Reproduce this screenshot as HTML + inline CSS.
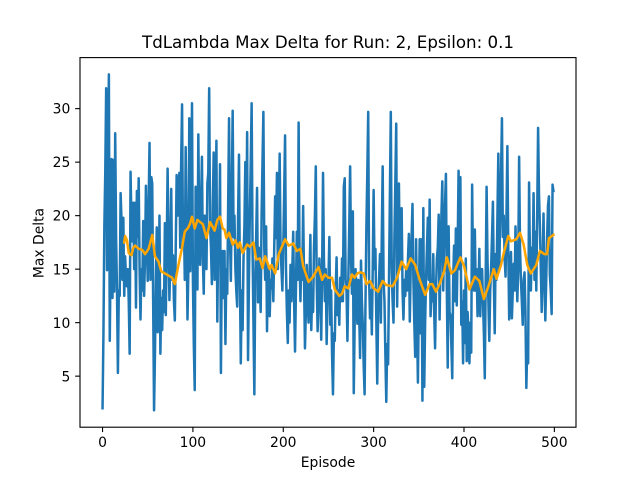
<!DOCTYPE html>
<html>
<head>
<meta charset="utf-8">
<style>
html,body{margin:0;padding:0;background:#fff;width:640px;height:480px;overflow:hidden}
svg{display:block}
text{font-family:"DejaVu Sans",sans-serif;fill:#000}
</style>
</head>
<body>
<svg id="chart" width="640" height="480" viewBox="0 0 640 480" xmlns="http://www.w3.org/2000/svg">
<rect x="0" y="0" width="640" height="480" fill="#fff"/>
<text x="328" y="48" font-size="16.67" text-anchor="middle">TdLambda Max Delta for Run: 2, Epsilon: 0.1</text>
<text x="328" y="467" font-size="13.89" text-anchor="middle">Episode</text>
<text x="0" y="0" font-size="13.89" text-anchor="middle" transform="translate(43.5 243) rotate(-90)">Max Delta</text>
</svg>
<script>
const xTicks = [0, 100, 200, 300, 400, 500];
const yTicks = [5, 10, 15, 20, 25, 30];
const deltaValues = [
2,9,19,24,31.9,14.9,25,33.2,8.3,17,25.3,12.3,25.2,12.9,27.7,17.9,13,5.3,13,12.5,
22.1,19.5,14,19.8,12.5,16.2,14,13.4,15,12,7.1,24.1,19,17.6,21.2,15,21.2,11.4,22.3,18,
23.5,15,10.3,15,13,19.5,12.5,16,22.8,18,13.9,21,26.8,14,23.6,23,12,1.8,7,14,
18.9,9.1,12,20,7.1,12.3,9.3,13,11,19.3,10.7,17,24.4,18,12.1,16,22.5,14,16.3,12,
10.2,17,23.8,20,21.3,24,17,25,30.4,17.6,20,14,26.4,18,10.3,15,29.1,14.8,21,30.5,
14,8,3.7,22.7,18,13.1,27.6,19,15.4,21,25.5,16,12.7,20,17,15,23,24,31.9,19,
17,13.6,21,25.9,14,18,27,10.1,18,16,24.8,5.3,16,16.7,12.3,16.7,8,15,12.7,21,
29.1,18,13.9,22,29.8,18,20,15,13,11.5,20,25.7,14,6.2,13,9.3,16,19,25,17,
27.8,6.5,14,20,25,30.5,17,10,3.3,14,18,22.6,11.9,17,14,11,20,25,29.7,17,
14,19,9.2,15,14.9,10.6,14,13.2,16,12,17,21.8,17.9,24,15,19,25.8,17,15,13,
17,22,27.5,15,11,8.1,13,10,15.4,12,15,18.5,12,7.3,13,18.5,14,28.7,16,12,
16.4,14,20.9,14,7.6,11,15.4,12,10,14,18.2,9.3,13,11,17,20,24.6,14,9.2,12,
16,13,8.4,15,24,16,12,15,8,12,14,18,9.8,13,7,3.3,9,8.3,13,16.1,
10.7,13,9.8,14.2,12,16,12,22.7,23.5,14,13,8.3,14,19,24.6,16,12.7,20.4,3.4,10,
15,13,9.9,14,11,6.7,15.8,12,9.8,6,3.3,12,19,24,29.7,14,10.4,13,8.9,15,
22.4,15,16.9,10,4.3,11,14,16.4,10,18,24.6,14,12,7,2.6,8,6.1,14,22,29.7,
15,12,10,18,23,28.6,11.5,18,23,15,18,20.7,13,10.3,14,12.5,15,13,16,18.3,
10.1,15,18,21.1,14,10,6.8,17.8,10,4.4,12,17.8,9,17.8,2.7,20.7,4,10,14,17,
19.8,14,21.5,10.6,13,12,16.4,11,7.6,13,16,17,20.1,10.3,16,20,23.2,13,18,21,
23.9,13,5.8,19,11,10.7,8,4.8,14,17.2,12,18.8,11.6,17,24.2,15,23.6,9.8,12,6.2,
13,8.1,16,6.4,11,9,6.2,10,7.2,22.9,15,13,18.7,13,15,10.6,13,16.9,10.6,15,
15,12,9,4.8,14,22.7,16,12,8.3,13,15.1,18,21.3,14,9,16.4,14,20,25.8,15,
19.2,24,29.1,18,20,16,14.3,20,26.5,17,10.3,13,16.6,10.4,13,15.5,13,19,15,12,
15,25.5,17,14,12,9.8,14,14.7,11,3.9,8,6.2,23.1,16,13,17,15,22.1,14,18.5,
13,20,28.2,22,19,15,11,15,20.2,14,10.2,14,18,21,21.8,14.5,13,10.8,22.9,22.3
];
const averageEpisodes = [24,25,27,29,32,34,36,40,44,47,51,55,58,62,65,69,73,77,80,84,88,91,95,97,99,102,105,111,115,119,124,127,130,133,135,137,140,144,147,150,152,155,160,163,167,170,174,177,180,185,187,191,195,198,202,206,211,215,219,222,228,233,239,243,246,250,254,257,262,265,268,272,276,279,282,285,289,292,296,300,305,310,314,321,326,331,336,341,346,351,357,362,365,369,373,378,381,386,390,396,400,406,412,417,422,427,433,436,441,444,449,452,458,462,466,470,474,480,484,489,492,494,499];
const averageValues = [17.5,18.1,17.7,16.5,16.3,17,17.2,16.9,16.8,16.4,16.9,18.2,16.2,15.7,14.8,14.6,14.4,14.2,13.6,15.4,17,18.5,18.9,19.3,19.9,18.8,19.6,19.2,17.9,19.4,18.6,19.6,19.9,18.8,18.7,17.9,18.4,17.3,17.7,17,17.5,16.5,17.3,17.1,17.5,15.9,16,15.1,16.2,15,15.4,14.6,16.4,17,17.8,17.2,17.4,16.7,16.9,15.3,13.8,14.3,15.2,14,14.5,14.2,14.2,13.1,12.5,12.7,13.4,13.2,14.5,14.2,14.6,14.7,14.6,13.6,13.9,13.2,12.9,13.9,13.5,13.4,14.2,15.7,15,16,15.4,14,12.6,13.6,13.6,12.9,13.6,14.8,16.1,14.6,14.9,16.1,15.3,13.1,14.3,13.9,12.2,13.4,15,14.1,15.4,16.5,18.1,17.6,17.8,18.4,17.3,15.4,14.6,15.4,16.7,16.4,16.4,17.9,18.2];

const svg = document.getElementById('chart');
const NS = 'http://www.w3.org/2000/svg';
const axesLeft = 80, axesRight = 576, axesTop = 57.6, axesBottom = 427.2;
const deltaEpisodes = deltaValues.map(function (v, i) { return i; });

function extent(values) {
  const lo = Math.min.apply(null, values);
  const hi = Math.max.apply(null, values);
  const pad = (hi - lo) * 0.05;
  return [lo - pad, hi + pad];
}
const xDomain = extent(deltaEpisodes);
const yDomain = extent(deltaValues);
function xScale(v) {
  return axesLeft + (v - xDomain[0]) / (xDomain[1] - xDomain[0]) * (axesRight - axesLeft);
}
function yScale(v) {
  return axesBottom - (v - yDomain[0]) / (yDomain[1] - yDomain[0]) * (axesBottom - axesTop);
}
function pointsFor(xs, ys) {
  return xs.map(function (x, i) {
    return xScale(x).toFixed(2) + ',' + yScale(ys[i]).toFixed(2);
  }).join(' ');
}
function make(tag, attrs) {
  const el = document.createElementNS(NS, tag);
  Object.keys(attrs).forEach(function (k) { el.setAttribute(k, attrs[k]); });
  svg.appendChild(el);
  return el;
}

const clip = document.createElementNS(NS, 'clipPath');
clip.setAttribute('id', 'plot-clip');
const clipRect = document.createElementNS(NS, 'rect');
clipRect.setAttribute('x', axesLeft);
clipRect.setAttribute('y', axesTop);
clipRect.setAttribute('width', axesRight - axesLeft);
clipRect.setAttribute('height', axesBottom - axesTop);
clip.appendChild(clipRect);
svg.appendChild(clip);

const deltaLine = make('polyline', {points: pointsFor(deltaEpisodes, deltaValues), fill: 'none', stroke: '#1f77b4', 'stroke-width': 2.5, 'stroke-linejoin': 'round', 'stroke-linecap': 'square', 'clip-path': 'url(#plot-clip)'});



const averageLine = make('polyline', {points: pointsFor(averageEpisodes, averageValues), fill: 'none', stroke: 'orange', 'stroke-width': 2.5, 'stroke-linejoin': 'round', 'stroke-linecap': 'square', 'clip-path': 'url(#plot-clip)'});



const frame = make('rect', {x: axesLeft, y: axesTop, width: axesRight - axesLeft, height: axesBottom - axesTop, fill: 'none', stroke: '#000', 'stroke-width': 1.11});



xTicks.forEach(function (t) {
  const x = xScale(t);
  const mark = make('line', {x1: x, x2: x, y1: axesBottom, y2: axesBottom + 4.86, stroke: '#000', 'stroke-width': 1.11});
  
  
  const label = make('text', {x: x, y: 447, 'font-size': 13.89, 'text-anchor': 'middle'});
  
  
  label.textContent = t;
});

yTicks.forEach(function (t) {
  const y = yScale(t);
  const mark = make('line', {x1: axesLeft, x2: axesLeft - 4.86, y1: y, y2: y, stroke: '#000', 'stroke-width': 1.11});
  
  
  const label = make('text', {x: axesLeft - 9.7, y: y + 5.1, 'font-size': 13.89, 'text-anchor': 'end'});
  
  
  label.textContent = t;
});
</script>
</body>
</html>
